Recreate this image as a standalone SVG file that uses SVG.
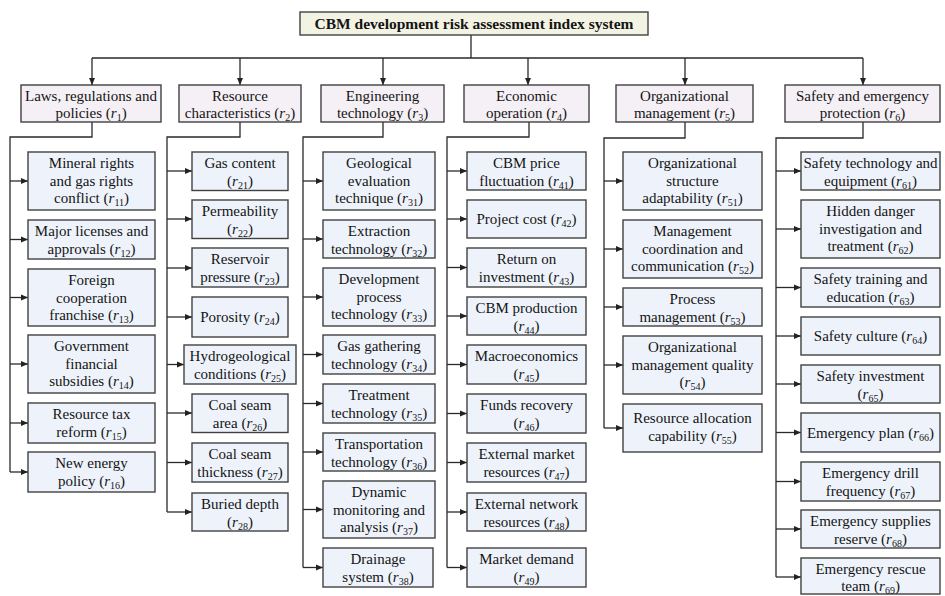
<svg xmlns="http://www.w3.org/2000/svg" width="945" height="596" viewBox="0 0 945 596">
<defs>
<marker id="ah" markerUnits="userSpaceOnUse" markerWidth="8" markerHeight="7" refX="7" refY="3.5" orient="auto">
<path d="M0,0.5 L7,3.5 L0,6.5 z" fill="#222"/>
</marker>
<style>
.ttl{fill:#F3F3E4;stroke:#404040;stroke-width:1.4}
.l1{fill:#F5F0F5;stroke:#404040;stroke-width:1.4}
.l2{fill:#EEF3FB;stroke:#404040;stroke-width:1.4}
.c{fill:none;stroke:#2a2a2a;stroke-width:1.3}
.a{fill:none;stroke:#2a2a2a;stroke-width:1.3;marker-end:url(#ah)}
text{font-family:"Liberation Serif","Times New Roman",serif;font-size:15px;fill:#141414;text-anchor:middle}
.b{font-weight:bold;font-size:15.5px}
.i{font-style:italic}
.s{font-size:10px}
</style>
</defs>
<rect width="945" height="596" fill="#fff"/>

<g id="connectors">
<path class="c" d="M471,35 V58 M92,58 H863"/>
<path class="a" d="M92,58 V85"/>
<path class="a" d="M240,58 V85"/>
<path class="a" d="M383,58 V85"/>
<path class="a" d="M528,58 V85"/>
<path class="a" d="M685,58 V85"/>
<path class="a" d="M863,58 V85"/>
<!-- col1 -->
<path class="c" d="M92,122 V137 H10 V472"/>
<path class="a" d="M10,181 H28"/><path class="a" d="M10,239.5 H28"/><path class="a" d="M10,297.5 H28"/><path class="a" d="M10,364 H28"/><path class="a" d="M10,423 H28"/><path class="a" d="M10,472 H28"/>
<!-- col2 -->
<path class="c" d="M240,122 V137 H167 V512"/>
<path class="a" d="M167,171 H192"/><path class="a" d="M167,219 H192"/><path class="a" d="M167,268 H192"/><path class="a" d="M167,317 H192"/><path class="a" d="M167,364.5 H184"/><path class="a" d="M167,413 H192"/><path class="a" d="M167,462.5 H192"/><path class="a" d="M167,512 H192"/>
<!-- col3 -->
<path class="c" d="M383,122 V137 H303 V567.5"/>
<path class="a" d="M303,181 H323"/><path class="a" d="M303,239 H323"/><path class="a" d="M303,297 H323"/><path class="a" d="M303,354.5 H323"/><path class="a" d="M303,403.5 H323"/><path class="a" d="M303,452 H323"/><path class="a" d="M303,509.5 H323"/><path class="a" d="M303,567.5 H323"/>
<!-- col4 -->
<path class="c" d="M529,122 V137 H447 V567.5"/>
<path class="a" d="M447,171 H467"/><path class="a" d="M447,219 H467"/><path class="a" d="M447,267.5 H467"/><path class="a" d="M447,316 H467"/><path class="a" d="M447,364.5 H467"/><path class="a" d="M447,413.5 H467"/><path class="a" d="M447,462.5 H467"/><path class="a" d="M447,512 H467"/><path class="a" d="M447,567.5 H467"/>
<!-- col5 -->
<path class="c" d="M685,122 V138 H604 V428"/>
<path class="a" d="M604,181 H623"/><path class="a" d="M604,249 H623"/><path class="a" d="M604,307 H623"/><path class="a" d="M604,365 H623"/><path class="a" d="M604,428 H623"/>
<!-- col6 -->
<path class="c" d="M863,122 V138 H776 V577"/>
<path class="a" d="M776,171 H801"/><path class="a" d="M776,229 H801"/><path class="a" d="M776,287.5 H801"/><path class="a" d="M776,336 H801"/><path class="a" d="M776,384 H801"/><path class="a" d="M776,432.5 H801"/><path class="a" d="M776,481.5 H801"/><path class="a" d="M776,529 H801"/><path class="a" d="M776,577 H801"/>
</g>

<g id="title"><rect class="ttl" x="300" y="12" width="348" height="23"/><text class="b" x="474" y="29">CBM development risk assessment index system</text></g>

<g id="r1"><rect class="l1" x="21" y="85" width="140" height="37"/><text x="91" y="100.5">Laws, regulations and</text><text x="91" y="117.5">policies (<tspan class="i">r</tspan><tspan class="s" dy="3">1</tspan><tspan dy="-3">)</tspan></text></g>
<g id="r2"><rect class="l1" x="179" y="85" width="122" height="37"/><text x="240" y="100.5">Resource</text><text x="240" y="117.5">characteristics (<tspan class="i">r</tspan><tspan class="s" dy="3">2</tspan><tspan dy="-3">)</tspan></text></g>
<g id="r3"><rect class="l1" x="321" y="85" width="123" height="37"/><text x="382.5" y="100.5">Engineering</text><text x="382.5" y="117.5">technology (<tspan class="i">r</tspan><tspan class="s" dy="3">3</tspan><tspan dy="-3">)</tspan></text></g>
<g id="r4"><rect class="l1" x="464" y="85" width="125" height="37"/><text x="526.5" y="100.5">Economic</text><text x="526.5" y="117.5">operation (<tspan class="i">r</tspan><tspan class="s" dy="3">4</tspan><tspan dy="-3">)</tspan></text></g>
<g id="r5"><rect class="l1" x="616" y="85" width="137" height="37"/><text x="684.5" y="100.5">Organizational</text><text x="684.5" y="117.5">management (<tspan class="i">r</tspan><tspan class="s" dy="3">5</tspan><tspan dy="-3">)</tspan></text></g>
<g id="r6"><rect class="l1" x="785" y="85" width="155" height="37"/><text x="862.5" y="100.5">Safety and emergency</text><text x="862.5" y="117.5">protection (<tspan class="i">r</tspan><tspan class="s" dy="3">6</tspan><tspan dy="-3">)</tspan></text></g>

<!-- column 1 -->
<g id="r11"><rect class="l2" x="28" y="152" width="127" height="58"/><text x="91.5" y="168">Mineral rights</text><text x="91.5" y="185.5">and gas rights</text><text x="91.5" y="203">conflict (<tspan class="i">r</tspan><tspan class="s" dy="3">11</tspan><tspan dy="-3">)</tspan></text></g>
<g id="r12"><rect class="l2" x="28" y="220" width="127" height="39"/><text x="91.5" y="236">Major licenses and</text><text x="91.5" y="253.5">approvals (<tspan class="i">r</tspan><tspan class="s" dy="3">12</tspan><tspan dy="-3">)</tspan></text></g>
<g id="r13"><rect class="l2" x="28" y="269" width="127" height="57"/><text x="91.5" y="285">Foreign</text><text x="91.5" y="302.5">cooperation</text><text x="91.5" y="320">franchise (<tspan class="i">r</tspan><tspan class="s" dy="3">13</tspan><tspan dy="-3">)</tspan></text></g>
<g id="r14"><rect class="l2" x="28" y="335" width="127" height="58"/><text x="91.5" y="351">Government</text><text x="91.5" y="368.5">financial</text><text x="91.5" y="386">subsidies (<tspan class="i">r</tspan><tspan class="s" dy="3">14</tspan><tspan dy="-3">)</tspan></text></g>
<g id="r15"><rect class="l2" x="28" y="403" width="127" height="40"/><text x="91.5" y="419">Resource tax</text><text x="91.5" y="436.5">reform (<tspan class="i">r</tspan><tspan class="s" dy="3">15</tspan><tspan dy="-3">)</tspan></text></g>
<g id="r16"><rect class="l2" x="28" y="452" width="127" height="40"/><text x="91.5" y="468">New energy</text><text x="91.5" y="485.5">policy (<tspan class="i">r</tspan><tspan class="s" dy="3">16</tspan><tspan dy="-3">)</tspan></text></g>

<!-- column 2 -->
<g id="r21"><rect class="l2" x="192" y="152" width="96" height="38.5"/><text x="240" y="168">Gas content</text><text x="240" y="185.5">(<tspan class="i">r</tspan><tspan class="s" dy="3">21</tspan><tspan dy="-3">)</tspan></text></g>
<g id="r22"><rect class="l2" x="192" y="200" width="96" height="38.5"/><text x="240" y="216">Permeability</text><text x="240" y="233.5">(<tspan class="i">r</tspan><tspan class="s" dy="3">22</tspan><tspan dy="-3">)</tspan></text></g>
<g id="r23"><rect class="l2" x="192" y="248" width="96" height="39"/><text x="240" y="264">Reservoir</text><text x="240" y="281.5">pressure (<tspan class="i">r</tspan><tspan class="s" dy="3">23</tspan><tspan dy="-3">)</tspan></text></g>
<g id="r24"><rect class="l2" x="192" y="297" width="96" height="40"/><text x="240" y="322">Porosity (<tspan class="i">r</tspan><tspan class="s" dy="3">24</tspan><tspan dy="-3">)</tspan></text></g>
<g id="r25"><rect class="l2" x="184" y="345" width="112" height="39"/><text x="240" y="361">Hydrogeological</text><text x="240" y="378.5">conditions (<tspan class="i">r</tspan><tspan class="s" dy="3">25</tspan><tspan dy="-3">)</tspan></text></g>
<g id="r26"><rect class="l2" x="192" y="394" width="96" height="38.5"/><text x="240" y="410">Coal seam</text><text x="240" y="427.5">area (<tspan class="i">r</tspan><tspan class="s" dy="3">26</tspan><tspan dy="-3">)</tspan></text></g>
<g id="r27"><rect class="l2" x="192" y="443" width="96" height="39"/><text x="240" y="459">Coal seam</text><text x="240" y="476.5">thickness (<tspan class="i">r</tspan><tspan class="s" dy="3">27</tspan><tspan dy="-3">)</tspan></text></g>
<g id="r28"><rect class="l2" x="192" y="493" width="96" height="38"/><text x="240" y="509">Buried depth</text><text x="240" y="526.5">(<tspan class="i">r</tspan><tspan class="s" dy="3">28</tspan><tspan dy="-3">)</tspan></text></g>

<!-- column 3 -->
<g id="r31"><rect class="l2" x="323" y="152" width="112" height="58"/><text x="379" y="168">Geological</text><text x="379" y="185.5">evaluation</text><text x="379" y="203">technique (<tspan class="i">r</tspan><tspan class="s" dy="3">31</tspan><tspan dy="-3">)</tspan></text></g>
<g id="r32"><rect class="l2" x="323" y="220" width="112" height="38"/><text x="379" y="236">Extraction</text><text x="379" y="253.5">technology (<tspan class="i">r</tspan><tspan class="s" dy="3">32</tspan><tspan dy="-3">)</tspan></text></g>
<g id="r33"><rect class="l2" x="323" y="268" width="112" height="58"/><text x="379" y="284">Development</text><text x="379" y="301.5">process</text><text x="379" y="319">technology (<tspan class="i">r</tspan><tspan class="s" dy="3">33</tspan><tspan dy="-3">)</tspan></text></g>
<g id="r34"><rect class="l2" x="323" y="335" width="112" height="39"/><text x="379" y="351">Gas gathering</text><text x="379" y="368.5">technology (<tspan class="i">r</tspan><tspan class="s" dy="3">34</tspan><tspan dy="-3">)</tspan></text></g>
<g id="r35"><rect class="l2" x="323" y="384" width="112" height="39"/><text x="379" y="400">Treatment</text><text x="379" y="417.5">technology (<tspan class="i">r</tspan><tspan class="s" dy="3">35</tspan><tspan dy="-3">)</tspan></text></g>
<g id="r36"><rect class="l2" x="323" y="433" width="112" height="38"/><text x="379" y="449">Transportation</text><text x="379" y="466.5">technology (<tspan class="i">r</tspan><tspan class="s" dy="3">36</tspan><tspan dy="-3">)</tspan></text></g>
<g id="r37"><rect class="l2" x="323" y="481" width="112" height="57"/><text x="379" y="497">Dynamic</text><text x="379" y="514.5">monitoring and</text><text x="379" y="532">analysis (<tspan class="i">r</tspan><tspan class="s" dy="3">37</tspan><tspan dy="-3">)</tspan></text></g>
<g id="r38"><rect class="l2" x="323" y="548" width="110" height="39"/><text x="378" y="564">Drainage</text><text x="378" y="581.5">system (<tspan class="i">r</tspan><tspan class="s" dy="3">38</tspan><tspan dy="-3">)</tspan></text></g>

<!-- column 4 -->
<g id="r41"><rect class="l2" x="467" y="152" width="119" height="38"/><text x="526.5" y="168">CBM price</text><text x="526.5" y="185.5">fluctuation (<tspan class="i">r</tspan><tspan class="s" dy="3">41</tspan><tspan dy="-3">)</tspan></text></g>
<g id="r42"><rect class="l2" x="467" y="200" width="119" height="38"/><text x="526.5" y="224">Project cost (<tspan class="i">r</tspan><tspan class="s" dy="3">42</tspan><tspan dy="-3">)</tspan></text></g>
<g id="r43"><rect class="l2" x="467" y="248" width="119" height="39"/><text x="526.5" y="264">Return on</text><text x="526.5" y="281.5">investment (<tspan class="i">r</tspan><tspan class="s" dy="3">43</tspan><tspan dy="-3">)</tspan></text></g>
<g id="r44"><rect class="l2" x="467" y="297" width="119" height="38"/><text x="526.5" y="313">CBM production</text><text x="526.5" y="330.5">(<tspan class="i">r</tspan><tspan class="s" dy="3">44</tspan><tspan dy="-3">)</tspan></text></g>
<g id="r45"><rect class="l2" x="467" y="345" width="119" height="39"/><text x="526.5" y="361">Macroeconomics</text><text x="526.5" y="378.5">(<tspan class="i">r</tspan><tspan class="s" dy="3">45</tspan><tspan dy="-3">)</tspan></text></g>
<g id="r46"><rect class="l2" x="467" y="394" width="119" height="39"/><text x="526.5" y="410">Funds recovery</text><text x="526.5" y="427.5">(<tspan class="i">r</tspan><tspan class="s" dy="3">46</tspan><tspan dy="-3">)</tspan></text></g>
<g id="r47"><rect class="l2" x="467" y="443" width="119" height="39"/><text x="526.5" y="459">External market</text><text x="526.5" y="476.5">resources (<tspan class="i">r</tspan><tspan class="s" dy="3">47</tspan><tspan dy="-3">)</tspan></text></g>
<g id="r48"><rect class="l2" x="467" y="493" width="119" height="38"/><text x="526.5" y="509">External network</text><text x="526.5" y="526.5">resources (<tspan class="i">r</tspan><tspan class="s" dy="3">48</tspan><tspan dy="-3">)</tspan></text></g>
<g id="r49"><rect class="l2" x="467" y="548" width="119" height="39"/><text x="526.5" y="564">Market demand</text><text x="526.5" y="581.5">(<tspan class="i">r</tspan><tspan class="s" dy="3">49</tspan><tspan dy="-3">)</tspan></text></g>

<!-- column 5 -->
<g id="r51"><rect class="l2" x="623" y="152" width="139" height="58"/><text x="692.5" y="168">Organizational</text><text x="692.5" y="185.5">structure</text><text x="692.5" y="203">adaptability (<tspan class="i">r</tspan><tspan class="s" dy="3">51</tspan><tspan dy="-3">)</tspan></text></g>
<g id="r52"><rect class="l2" x="623" y="220" width="139" height="58"/><text x="692.5" y="236">Management</text><text x="692.5" y="253.5">coordination and</text><text x="692.5" y="271">communication (<tspan class="i">r</tspan><tspan class="s" dy="3">52</tspan><tspan dy="-3">)</tspan></text></g>
<g id="r53"><rect class="l2" x="623" y="288" width="139" height="38"/><text x="692.5" y="304">Process</text><text x="692.5" y="321.5">management (<tspan class="i">r</tspan><tspan class="s" dy="3">53</tspan><tspan dy="-3">)</tspan></text></g>
<g id="r54"><rect class="l2" x="623" y="336" width="139" height="58"/><text x="692.5" y="352">Organizational</text><text x="692.5" y="369.5">management quality</text><text x="692.5" y="387">(<tspan class="i">r</tspan><tspan class="s" dy="3">54</tspan><tspan dy="-3">)</tspan></text></g>
<g id="r55"><rect class="l2" x="623" y="404" width="139" height="48"/><text x="692.5" y="423">Resource allocation</text><text x="692.5" y="440.5">capability (<tspan class="i">r</tspan><tspan class="s" dy="3">55</tspan><tspan dy="-3">)</tspan></text></g>

<!-- column 6 -->
<g id="r61"><rect class="l2" x="801" y="152" width="139" height="38"/><text x="870.5" y="168">Safety technology and</text><text x="870.5" y="185.5">equipment (<tspan class="i">r</tspan><tspan class="s" dy="3">61</tspan><tspan dy="-3">)</tspan></text></g>
<g id="r62"><rect class="l2" x="801" y="200" width="139" height="58"/><text x="870.5" y="216">Hidden danger</text><text x="870.5" y="233.5">investigation and</text><text x="870.5" y="251">treatment (<tspan class="i">r</tspan><tspan class="s" dy="3">62</tspan><tspan dy="-3">)</tspan></text></g>
<g id="r63"><rect class="l2" x="801" y="268" width="139" height="39"/><text x="870.5" y="284">Safety training and</text><text x="870.5" y="301.5">education (<tspan class="i">r</tspan><tspan class="s" dy="3">63</tspan><tspan dy="-3">)</tspan></text></g>
<g id="r64"><rect class="l2" x="801" y="317" width="139" height="38"/><text x="870.5" y="341">Safety culture (<tspan class="i">r</tspan><tspan class="s" dy="3">64</tspan><tspan dy="-3">)</tspan></text></g>
<g id="r65"><rect class="l2" x="801" y="365" width="139" height="38"/><text x="870.5" y="381">Safety investment</text><text x="870.5" y="398.5">(<tspan class="i">r</tspan><tspan class="s" dy="3">65</tspan><tspan dy="-3">)</tspan></text></g>
<g id="r66"><rect class="l2" x="801" y="413" width="139" height="39"/><text x="870.5" y="437.5">Emergency plan (<tspan class="i">r</tspan><tspan class="s" dy="3">66</tspan><tspan dy="-3">)</tspan></text></g>
<g id="r67"><rect class="l2" x="801" y="462" width="139" height="39"/><text x="870.5" y="478">Emergency drill</text><text x="870.5" y="495.5">frequency (<tspan class="i">r</tspan><tspan class="s" dy="3">67</tspan><tspan dy="-3">)</tspan></text></g>
<g id="r68"><rect class="l2" x="801" y="510" width="139" height="38"/><text x="870.5" y="526">Emergency supplies</text><text x="870.5" y="543.5">reserve (<tspan class="i">r</tspan><tspan class="s" dy="3">68</tspan><tspan dy="-3">)</tspan></text></g>
<g id="r69"><rect class="l2" x="801" y="558" width="139" height="36"/><text x="870.5" y="574">Emergency rescue</text><text x="870.5" y="591">team (<tspan class="i">r</tspan><tspan class="s" dy="3">69</tspan><tspan dy="-3">)</tspan></text></g>
</svg>
